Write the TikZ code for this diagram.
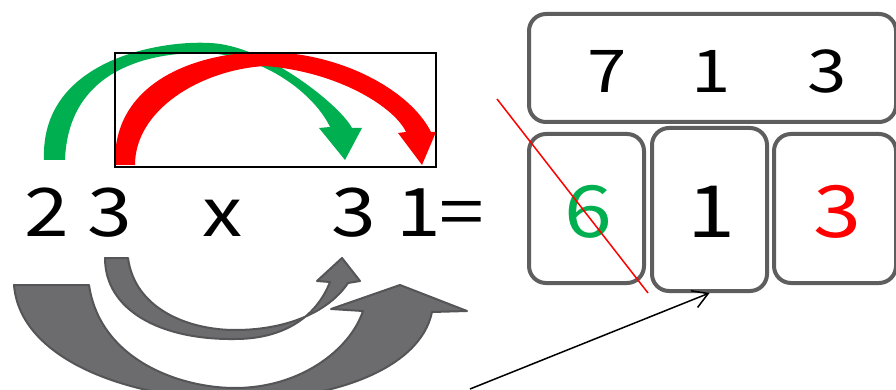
\documentclass[tikz,border=0pt]{standalone}
\usepackage{fontspec}
\setmainfont{Noto Sans CJK SC}
\usetikzlibrary{arrows.meta}
\definecolor{pgreen}{HTML}{00B050}
\definecolor{pred}{HTML}{FF0000}
\definecolor{boxgray}{HTML}{5E5E5E}
\definecolor{arrfill}{HTML}{6C6C6E}
\definecolor{arrline}{HTML}{555557}
\newcommand{\widedig}[1]{\scalebox{1.2}[1]{#1}}
\tikzset{
  numtxt/.style={inner sep=0pt, anchor=base},
  lefttxt/.style={numtxt, font=\fontsize{67}{67}\selectfont},
  toptxt/.style={numtxt, font=\fontsize{59}{59}\selectfont},
  bottxt/.style={numtxt, font=\fontsize{72}{72}\selectfont},
  cellbox/.style={draw=boxgray, line width=4pt, rounded corners=17pt, inner sep=0pt},
  grayarrow/.style={fill=arrfill, draw=arrline, line width=2pt, line join=round},
}
\begin{document}
\begin{tikzpicture}[x=1pt,y=-1pt]
\useasboundingbox (0,0) rectangle (896,390);
\begin{scope}
\clip (0,0) rectangle (896,390);
\fill[white] (0,0) rectangle (896,390);
% gray curved arrows
\path[grayarrow] (14,285) -- (89,285) .. controls (100,360) and (180,388) .. (235,388)
  .. controls (300,388) and (350,350) .. (363,311) -- (331,309) -- (400,285) -- (467,311) -- (432,312)
  .. controls (420,370) and (330,400) .. (240,400) .. controls (130,400) and (20,360) .. (14,285) -- cycle;
\path[grayarrow] (105,258) -- (128,258) .. controls (135,310) and (190,330) .. (235,330)
  .. controls (290,330) and (330,310) .. (348,283) -- (360,281) -- (342,258) -- (317,281) -- (330,282)
  .. controls (315,320) and (280,339) .. (235,339) .. controls (160,340) and (105,310) .. (105,258) -- cycle;
% green and red arcs
\fill[pgreen] (44,160) .. controls (40,60) and (160,40) .. (210,43) .. controls (265,45) and (340,105) .. (352,128)
  -- (362,128) -- (345,160) -- (319,128) -- (330,127) .. controls (315,95) and (265,55) .. (205,53)
  .. controls (140,52) and (68,75) .. (65,160) -- cycle;
\fill[pred] (115,165) .. controls (112,80) and (200,52) .. (265,52) .. controls (340,52) and (410,90) .. (431,132)
  -- (436,132) -- (422,165) -- (398,133) -- (406,132) .. controls (395,108) and (340,72) .. (265,66)
  .. controls (200,70) and (135,110) .. (135,165) -- cycle;
\draw[line width=1.8pt] (115,53) rectangle (436,167);
% left expression
\node[lefttxt] (d2) at (47,236) {\widedig{2}};
\node[lefttxt] (d3) at (110,236) {\widedig{3}};
\node[lefttxt] (dx) at (223,236) {\widedig{x}};
\node[lefttxt] (e3) at (354,236) {\widedig{3}};
\node[lefttxt] (e1) at (419,236) {\widedig{1}};
\node[lefttxt] (eq) at (462,236) {\widedig{=}};
% boxes
\node[cellbox, minimum width=367pt, minimum height=108pt] (topbox) at (712.5,68) {};
\node[cellbox, minimum width=115pt, minimum height=149pt] (b1) at (586.5,208.5) {};
\node[cellbox, minimum width=115pt, minimum height=163pt] (b2) at (709.5,209.5) {};
\node[cellbox, minimum width=122pt, minimum height=149pt] (b3) at (835,208.5) {};
\node[toptxt] (t7) at (607,93) {\widedig{7}};
\node[toptxt] (t1) at (711,93) {\widedig{1}};
\node[toptxt] (t3) at (827,93) {\widedig{3}};
\node[bottxt, text=pgreen] (r6) at (588,237) {\widedig{6}};
\node[bottxt] (r1) at (711,237) {\widedig{1}};
\node[bottxt, text=pred] (r3) at (837,237) {\widedig{3}};
% red diagonal
\coordinate (ls) at (497,99);
\coordinate (le) at (648,293);
\draw[pred, line width=1.5pt] (ls) -- (le);
% pointer arrow
\coordinate (ps) at (470,389);
\draw[line width=1.5pt, -{Straight Barb[length=15pt,width=18pt]}] (ps) -- (b2.south);
\end{scope}
\end{tikzpicture}
\end{document}
